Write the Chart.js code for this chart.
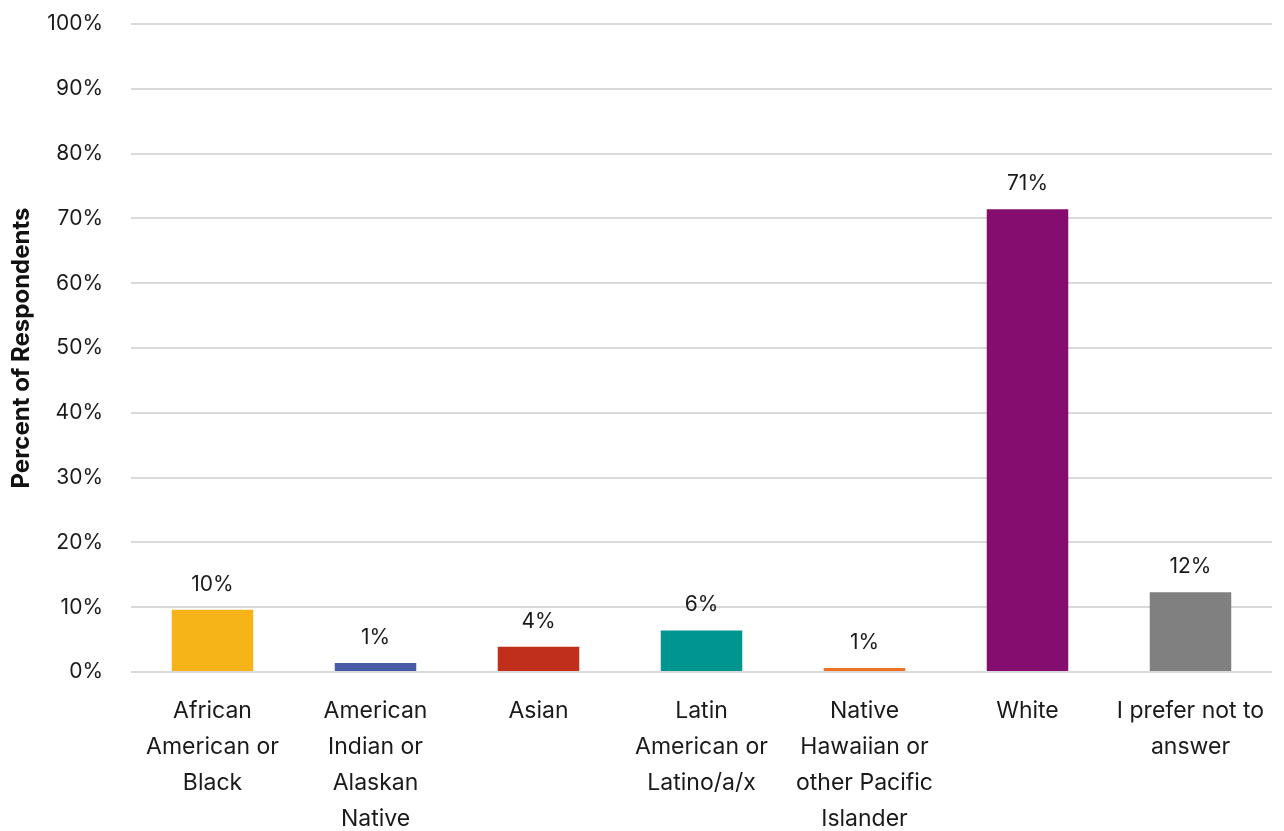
<!DOCTYPE html>
<html>
<head>
<meta charset="utf-8">
<script src="https://cdn.jsdelivr.net/npm/chart.js@4/dist/chart.umd.min.js"></script>
<style>
  html, body { margin: 0; padding: 0; background: #fff; }
  #wrap { width: 1284px; height: 831px; }
</style>
</head>
<body>
<div id="wrap"><canvas id="chart"></canvas></div>
<script>
// --- Data ---
const categories = [
  ['African', 'American or', 'Black'],
  ['American', 'Indian or', 'Alaskan', 'Native'],
  ['Asian'],
  ['Latin', 'American or', 'Latino/a/x'],
  ['Native', 'Hawaiian or', 'other Pacific', 'Islander'],
  ['White'],
  ['I prefer not to', 'answer']
];
const percentValues = [9.6, 1.4, 3.9, 6.4, 0.6, 71.4, 12.3];
const valueLabels = ['10%', '1%', '4%', '6%', '1%', '71%', '12%'];
const barColors = ['#F7B418', '#4A5BA7', '#BF2F1B', '#00958E', '#EE7326', '#850D6F', '#808080'];

const FONT = 'Inter, "Noto Sans", sans-serif';

// draws the value text above each bar
const valueLabelPlugin = {
  id: 'valueLabels',
  afterDatasetsDraw(chart) {
    const ctx = chart.ctx;
    const meta = chart.getDatasetMeta(0);
    ctx.save();
    ctx.font = '21px ' + FONT;
    ctx.fillStyle = '#1a1a1a';
    ctx.textAlign = 'center';
    ctx.textBaseline = 'bottom';
    meta.data.forEach((bar, i) => {
      ctx.fillText(valueLabels[i], bar.x, bar.y - 15);
    });
    ctx.restore();
  }
};

new Chart(document.getElementById('chart'), {
  type: 'bar',
  data: {
    labels: categories,
    datasets: [{ data: percentValues, backgroundColor: barColors, categoryPercentage: 1, barPercentage: 0.5 }]
  },
  options: {
    responsive: true,
    maintainAspectRatio: false,
    animation: false,
    layout: { padding: { top: 0, right: 12, left: 0, bottom: 0 } },
    plugins: { legend: { display: false }, tooltip: { enabled: false } },
    scales: {
      x: {
        grid: { display: false },
        border: { display: false },
        ticks: { color: '#1a1a1a', font: { family: FONT, size: 23, lineHeight: 1.57 }, maxRotation: 0, autoSkip: false, padding: 13 },
        afterFit: s => { s.height = 159; }
      },
      y: {
        min: 0, max: 100,
        grid: { color: '#D9D9D9', lineWidth: 2, drawTicks: false },
        border: { display: false },
        ticks: { stepSize: 10, color: '#1a1a1a', font: { family: FONT, size: 21 }, padding: 28, callback: v => v + '%' },
        title: { display: true, text: 'Percent of Respondents', color: '#111', font: { family: FONT, size: 24, weight: 'bold' }, padding: { top: 7, bottom: 0 } },
        afterFit: s => { s.width = 131; s.paddingTop = 24; }
      }
    }
  },
  plugins: [valueLabelPlugin]
});
</script>
</body>
</html>
